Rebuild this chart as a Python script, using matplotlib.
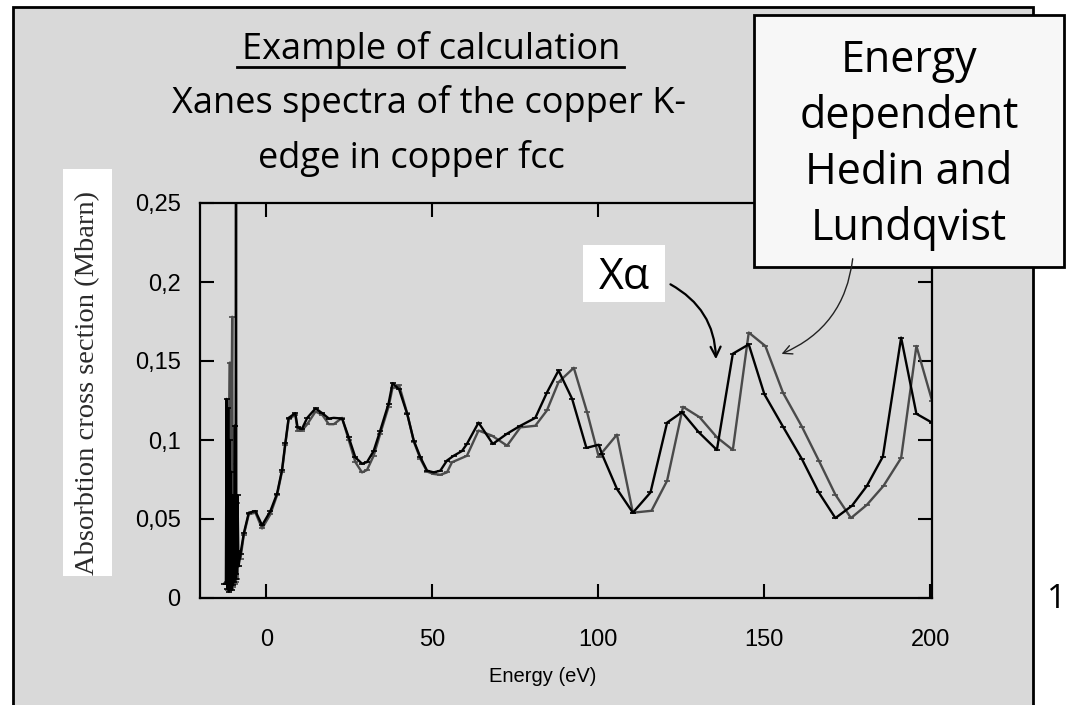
import matplotlib
matplotlib.use("Agg")
import matplotlib.pyplot as plt
from matplotlib.patches import Rectangle, FancyArrowPatch
from matplotlib.lines import Line2D

# ---------------- data ----------------
# pre-edge spikes (Xalpha, black)
spike_x_xa = [-12.7, -12.2, -12.0, -11.8, -11.5, -11.3, -11.1, -10.9, -10.7, -10.5, -10.3,
              -10.1, -9.9, -9.7, -9.5, -9.3, -9.15, -9.05, -8.9, -8.7, -8.4]
spike_y_xa = [0.009, 0.009, 0.126, 0.006, 0.120, 0.004, 0.100, 0.010, 0.080, 0.005, 0.065,
              0.008, 0.060, 0.010, 0.109, 0.012, 0.270, 0.015, 0.030, 0.065, 0.020]
# pre-edge spikes (Hedin-Lundqvist, grey)
spike_x_hl = [-12.0, -11.7, -11.5, -11.2, -11.0, -10.8, -10.6, -10.3, -10.1, -9.9, -9.6,
              -9.4, -9.2, -9.0, -8.8, -8.5]
spike_y_hl = [0.010, 0.100, 0.005, 0.110, 0.149, 0.006, 0.085, 0.178, 0.007, 0.070, 0.009,
              0.109, 0.010, 0.060, 0.012, 0.030]

energy_xa = [-7.8, -6.8, -5.3, -3.3, -1.3, 1.2, 3.2, 4.7, 5.7, 6.7, 8.7, 9.4, 10.7, 12.3, 14.8,
             16.8, 18.8, 20.3, 22.8, 24.8, 26.8, 28.8, 30.3, 32.3, 34.3, 36.8, 38.0, 40.0, 42.4,
             44.4, 46.4, 48.4, 50.4, 52.4, 54.4, 56.4, 58.9, 60.4, 63.9, 68.2, 72.5, 76.5, 81.0,
             84.5, 88.0, 92.1, 96.4, 100.1, 101.1, 105.6, 110.4, 115.7, 120.7, 125.2, 130.2,
             135.7, 140.5, 145.3, 150.0, 155.6, 161.3, 166.4, 171.4, 176.4, 180.9, 185.7, 191.2,
             195.8, 200.5]
sigma_xa = [0.028, 0.041, 0.054, 0.055, 0.046, 0.055, 0.066, 0.081, 0.098, 0.114, 0.117, 0.108,
            0.107, 0.114, 0.120, 0.117, 0.1136, 0.114, 0.1136, 0.1017, 0.089, 0.085, 0.086,
            0.093, 0.106, 0.123, 0.136, 0.132, 0.1166, 0.0996, 0.089, 0.0806, 0.0795, 0.0806,
            0.087, 0.090, 0.093, 0.0975, 0.111, 0.0975, 0.104, 0.109, 0.114, 0.130, 0.144,
            0.126, 0.095, 0.097, 0.091, 0.069, 0.054, 0.0668, 0.111, 0.1176, 0.105, 0.0937,
            0.1546, 0.1605, 0.129, 0.1085, 0.088, 0.0668, 0.0506, 0.0584, 0.071, 0.0895,
            0.1648, 0.1166, 0.111]

energy_hl = [-7.8, -6.8, -5.3, -3.3, -1.3, 1.2, 3.2, 4.7, 5.7, 6.7, 8.7, 9.4, 10.7, 12.3, 14.8,
             16.8, 18.8, 20.3, 22.8, 24.8, 26.8, 28.8, 30.3, 32.3, 34.3, 36.8, 38.0, 40.0, 42.4,
             44.4, 46.4, 48.4, 50.4, 52.4, 54.4, 55.9, 60.4, 63.9, 67.9, 72.5, 76.5, 81.0, 84.5,
             88.0, 92.6, 96.6, 100.1, 105.6, 110.4, 116.0, 120.7, 125.5, 130.5, 135.7, 140.5,
             145.3, 150.3, 155.6, 161.3, 166.4, 171.4, 176.1, 180.9, 185.9, 191.2, 195.8, 200.5]
sigma_hl = [0.025, 0.040, 0.053, 0.054, 0.044, 0.053, 0.065, 0.080, 0.097, 0.113, 0.116, 0.106,
            0.106, 0.110, 0.118, 0.116, 0.110, 0.110, 0.114, 0.100, 0.086, 0.0795, 0.081,
            0.090, 0.104, 0.121, 0.133, 0.1345, 0.117, 0.099, 0.088, 0.080, 0.0785, 0.078,
            0.0795, 0.0859, 0.090, 0.106, 0.1028, 0.0964, 0.108, 0.109, 0.1187, 0.1366, 0.1457,
            0.1176, 0.0895, 0.1034, 0.054, 0.0552, 0.0742, 0.121, 0.1144, 0.1017, 0.0937,
            0.168, 0.1595, 0.130, 0.1085, 0.087, 0.0654, 0.0506, 0.059, 0.071, 0.0886, 0.1595,
            0.125]

x_ticks = [0, 50, 100, 150, 200]
y_ticks = [0, 0.05, 0.1, 0.15, 0.2, 0.25]
y_tick_labels = ["0", "0,05", "0,1", "0,15", "0,2", "0,25"]

# ---------------- figure ----------------
W, H = 1067, 705
fig = plt.figure(figsize=(W / 100, H / 100), dpi=100)
fig.patch.set_facecolor("white")

def P(x, y):
    return (x / W, 1 - y / H)

BG = "#d9d9d9"
# slide background with frame
fig.add_artist(Rectangle(P(13, 760), 1020 / W, 753 / H, transform=fig.transFigure,
                         facecolor=BG, edgecolor="black", lw=2, zorder=-5))

ax = fig.add_axes([200 / W, 1 - 598 / H, 732 / W, 395 / H])
ax.set_facecolor("none")

xa_x = spike_x_xa + energy_xa
xa_y = spike_y_xa + sigma_xa
hl_x = spike_x_hl + energy_hl
hl_y = spike_y_hl + sigma_hl

GREY = "#4a4a4a"
ax.plot(hl_x, hl_y, color=GREY, lw=1.7, marker="_", ms=4, mew=1.2)
ax.plot(xa_x, xa_y, color="black", lw=1.7, marker="_", ms=4, mew=1.2)

ax.set_xlim(-20, 200.5)
ax.set_ylim(0, 0.25)
ax.set_xticks(x_ticks)
ax.set_xticklabels([str(v) for v in x_ticks])
ax.set_yticks(y_ticks)
ax.set_yticklabels(y_tick_labels)
for s in ax.spines.values():
    s.set_linewidth(1.6)
ax.tick_params(direction="in", length=10, width=1.5, top=True, right=True,
               labelsize=17, pad=14)
ax.tick_params(axis="x", pad=22)
for lab in ax.get_xticklabels() + ax.get_yticklabels():
    lab.set_fontfamily("Liberation Sans")

fig.text(*P(543, 677), "Energy (eV)", ha="center", va="center",
         fontsize=14.5, family="Liberation Sans")

# y label on white strip
fig.add_artist(Rectangle(P(63, 576), 49 / W, 407 / H, transform=fig.transFigure,
                         facecolor="white", edgecolor="none", zorder=2))
fig.text(*P(88, 383), "Absorbtion cross section (Mbarn)", rotation=90,
         ha="center", va="center", fontsize=20.5, family="Liberation Serif",
         color="#2a2a2a", zorder=3)

# titles
TF = "Open Sans"
fig.text(*P(431, 59), "Example of calculation", ha="center", va="baseline",
         fontsize=26, family=TF)
fig.add_artist(Line2D([237 / W, 624 / W], [1 - 67 / H, 1 - 67 / H], color="black",
                      lw=2, transform=fig.transFigure))
fig.text(*P(429, 113), "Xanes spectra of the copper K-", ha="center", va="baseline",
         fontsize=26, family=TF)
fig.text(*P(411, 168), "edge in copper fcc", ha="center", va="baseline",
         fontsize=26, family=TF)

# callout box
fig.add_artist(Rectangle(P(754, 267), 310 / W, 252 / H, transform=fig.transFigure,
                         facecolor="#f7f7f7", edgecolor="black", lw=2, zorder=5))
for txt, yb in [("Energy", 72), ("dependent", 128), ("Hedin and", 184), ("Lundqvist", 240)]:
    fig.text(*P(909, yb), txt, ha="center", va="baseline", fontsize=31,
             family=TF, zorder=6)

# X alpha box
fig.add_artist(Rectangle(P(583, 302), 82 / W, 57 / H, transform=fig.transFigure,
                         facecolor="white", edgecolor="none", zorder=5))
fig.text(*P(624, 289), "X\u03b1", ha="center", va="baseline", fontsize=31,
         family=[TF, "DejaVu Sans"], zorder=6)

# arrows
fig.add_artist(FancyArrowPatch(P(668, 283), P(716, 362), transform=fig.transFigure,
                               connectionstyle="arc3,rad=-0.3", arrowstyle="->",
                               mutation_scale=18, lw=1.6, color="black", zorder=6))
fig.add_artist(FancyArrowPatch(P(853, 256), P(779, 355), transform=fig.transFigure,
                               connectionstyle="arc3,rad=-0.3", arrowstyle="->",
                               mutation_scale=16, lw=1.0, color="#222222", zorder=6))

# page number at the right edge
fig.text(*P(1066, 600), "1", ha="right", va="center", fontsize=24, family=TF)

fig.savefig("out.png", dpi=100)
